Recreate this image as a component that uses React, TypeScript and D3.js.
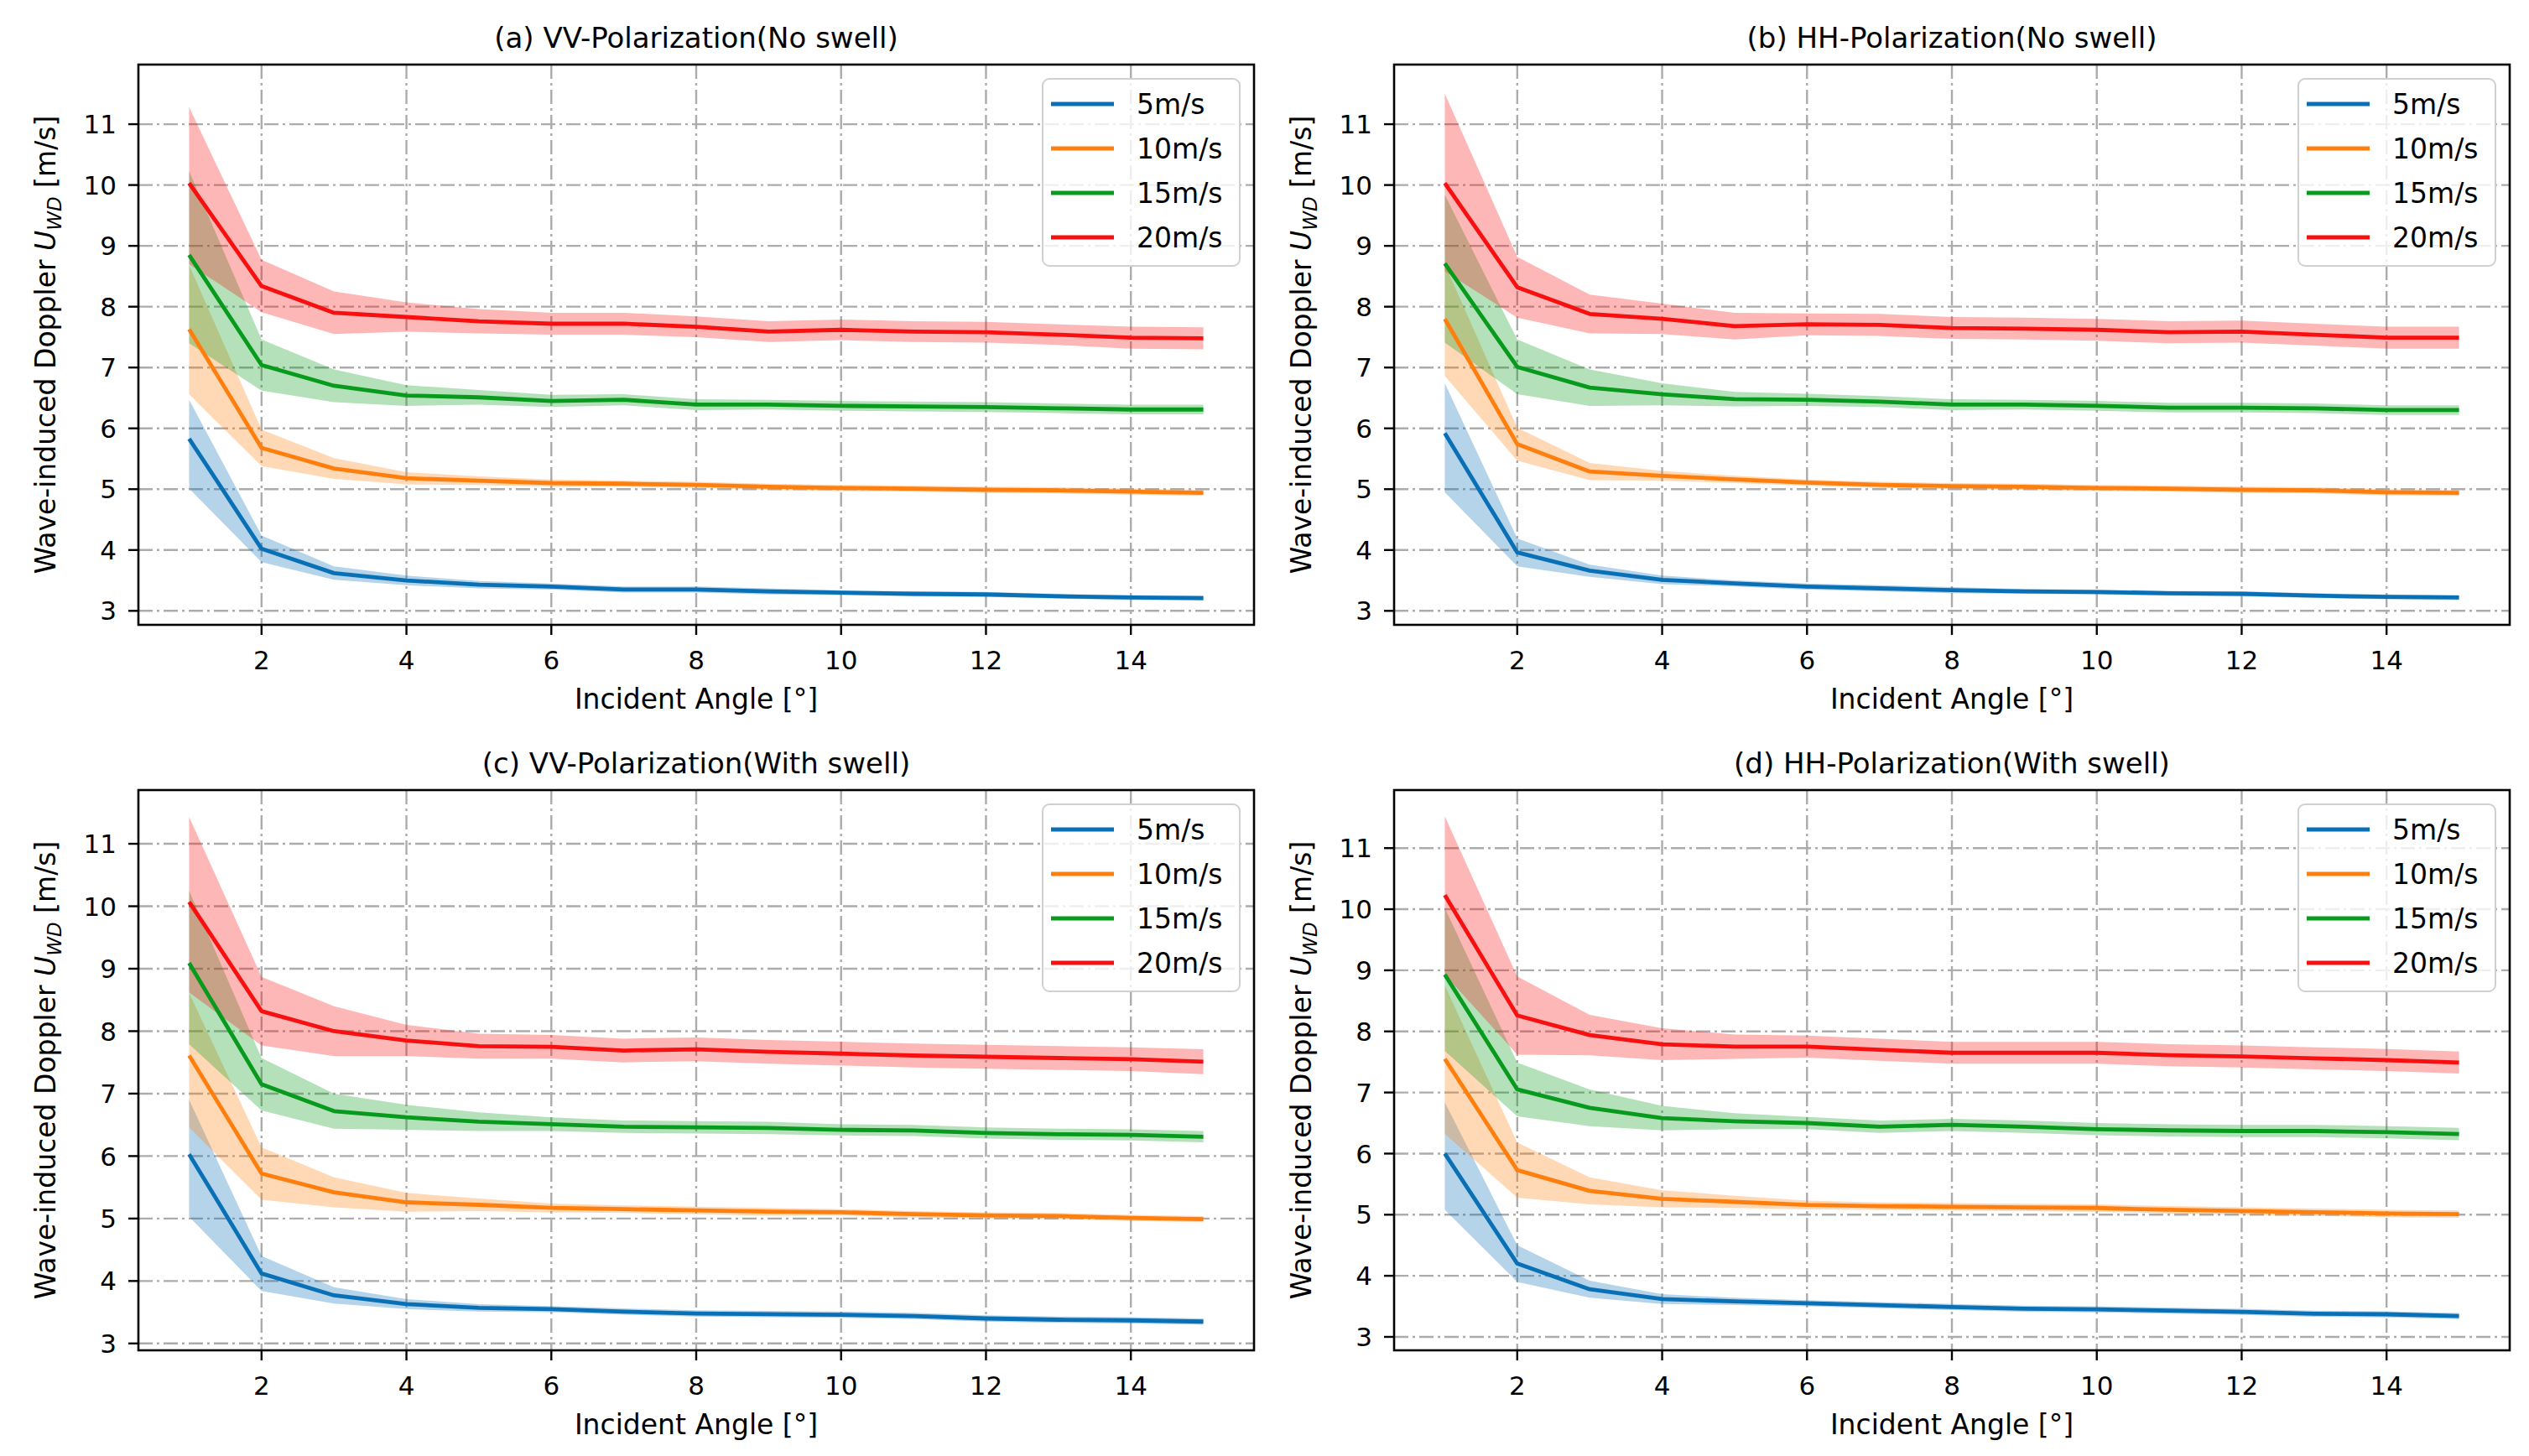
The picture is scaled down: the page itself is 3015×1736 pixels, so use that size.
import React from 'react';
import * as d3 from 'd3';

// ---------- data ----------
const angles = [1, 2, 3, 4, 5, 6, 7, 8, 9, 10, 11, 12, 13, 14, 15];
const xTicks = [2, 4, 6, 8, 10, 12, 14];
const yTicks = [3, 4, 5, 6, 7, 8, 9, 10, 11];
const speedLabels = ['5m/s', '10m/s', '15m/s', '20m/s'];
const seriesColors = ['#0a70b6', '#ff7f0e', '#079a1c', '#f80f0f'];
const panelTitles = [
  '(a) VV-Polarization(No swell)',
  '(b) HH-Polarization(No swell)',
  '(c) VV-Polarization(With swell)',
  '(d) HH-Polarization(With swell)',
];
const xLabel = 'Incident Angle [°]';

// (a) VV, no swell — mean per wind speed (5, 10, 15, 20 m/s)
const vvNoSwellMean = [
  [5.83, 4.02, 3.62, 3.50, 3.43, 3.40, 3.35, 3.35, 3.32, 3.30, 3.28, 3.27, 3.24, 3.22, 3.21],
  [7.63, 5.68, 5.34, 5.18, 5.14, 5.10, 5.09, 5.07, 5.04, 5.02, 5.01, 4.99, 4.98, 4.96, 4.94],
  [8.85, 7.04, 6.70, 6.54, 6.51, 6.45, 6.47, 6.39, 6.39, 6.37, 6.36, 6.35, 6.33, 6.31, 6.31],
  [10.03, 8.34, 7.90, 7.83, 7.76, 7.72, 7.72, 7.67, 7.59, 7.62, 7.59, 7.58, 7.54, 7.49, 7.48],
];
const vvNoSwellUp = [
  [0.64, 0.22, 0.11, 0.08, 0.06, 0.05, 0.05, 0.05, 0.05, 0.04, 0.04, 0.04, 0.04, 0.04, 0.04],
  [1.05, 0.30, 0.17, 0.10, 0.07, 0.06, 0.05, 0.05, 0.05, 0.05, 0.05, 0.05, 0.05, 0.05, 0.05],
  [1.38, 0.42, 0.27, 0.17, 0.12, 0.10, 0.09, 0.09, 0.08, 0.08, 0.08, 0.08, 0.08, 0.08, 0.08],
  [1.25, 0.43, 0.35, 0.24, 0.20, 0.18, 0.18, 0.17, 0.17, 0.17, 0.17, 0.17, 0.17, 0.18, 0.18],
];
const vvNoSwellDown = [
  [0.82, 0.22, 0.11, 0.08, 0.06, 0.05, 0.05, 0.05, 0.05, 0.04, 0.04, 0.04, 0.04, 0.04, 0.04],
  [1.07, 0.30, 0.17, 0.10, 0.07, 0.06, 0.05, 0.05, 0.05, 0.05, 0.05, 0.05, 0.05, 0.05, 0.05],
  [1.45, 0.42, 0.27, 0.17, 0.12, 0.10, 0.09, 0.09, 0.08, 0.08, 0.08, 0.08, 0.08, 0.08, 0.08],
  [1.33, 0.43, 0.35, 0.24, 0.20, 0.18, 0.18, 0.17, 0.17, 0.17, 0.17, 0.17, 0.17, 0.18, 0.18],
];

// (b) HH, no swell
const hhNoSwellMean = [
  [5.92, 3.96, 3.66, 3.51, 3.45, 3.40, 3.37, 3.34, 3.32, 3.31, 3.29, 3.28, 3.25, 3.23, 3.22],
  [7.80, 5.74, 5.29, 5.22, 5.16, 5.11, 5.07, 5.05, 5.04, 5.02, 5.01, 4.99, 4.98, 4.95, 4.94],
  [8.71, 7.01, 6.67, 6.56, 6.48, 6.47, 6.44, 6.39, 6.39, 6.37, 6.34, 6.34, 6.33, 6.30, 6.30],
  [10.03, 8.32, 7.88, 7.80, 7.68, 7.71, 7.70, 7.65, 7.64, 7.62, 7.58, 7.59, 7.54, 7.49, 7.49],
];
const hhNoSwellUp = [
  [0.82, 0.23, 0.10, 0.07, 0.05, 0.05, 0.05, 0.05, 0.04, 0.04, 0.04, 0.04, 0.04, 0.04, 0.04],
  [0.90, 0.27, 0.14, 0.08, 0.06, 0.05, 0.05, 0.05, 0.05, 0.05, 0.05, 0.05, 0.05, 0.05, 0.05],
  [1.13, 0.45, 0.30, 0.18, 0.12, 0.10, 0.09, 0.09, 0.08, 0.08, 0.08, 0.08, 0.08, 0.08, 0.08],
  [1.47, 0.50, 0.32, 0.25, 0.22, 0.18, 0.18, 0.18, 0.18, 0.18, 0.18, 0.18, 0.18, 0.18, 0.18],
];
const hhNoSwellDown = [
  [0.97, 0.23, 0.10, 0.07, 0.05, 0.05, 0.05, 0.05, 0.04, 0.04, 0.04, 0.04, 0.04, 0.04, 0.04],
  [0.94, 0.27, 0.14, 0.08, 0.06, 0.05, 0.05, 0.05, 0.05, 0.05, 0.05, 0.05, 0.05, 0.05, 0.05],
  [1.30, 0.45, 0.30, 0.18, 0.12, 0.10, 0.09, 0.09, 0.08, 0.08, 0.08, 0.08, 0.08, 0.08, 0.08],
  [1.45, 0.50, 0.32, 0.25, 0.22, 0.18, 0.18, 0.18, 0.18, 0.18, 0.18, 0.18, 0.18, 0.18, 0.18],
];

// (c) VV, with swell
const vvSwellMean = [
  [6.03, 4.12, 3.77, 3.63, 3.57, 3.55, 3.51, 3.48, 3.47, 3.46, 3.44, 3.40, 3.38, 3.37, 3.35],
  [7.61, 5.72, 5.42, 5.26, 5.22, 5.17, 5.15, 5.13, 5.11, 5.10, 5.07, 5.05, 5.04, 5.01, 4.99],
  [9.09, 7.15, 6.72, 6.62, 6.55, 6.51, 6.47, 6.46, 6.45, 6.42, 6.41, 6.37, 6.35, 6.34, 6.31],
  [10.07, 8.32, 8.00, 7.85, 7.76, 7.75, 7.69, 7.71, 7.67, 7.64, 7.61, 7.59, 7.57, 7.55, 7.51],
];
const vvSwellUp = [
  [0.87, 0.28, 0.13, 0.08, 0.06, 0.05, 0.05, 0.05, 0.05, 0.05, 0.05, 0.05, 0.05, 0.05, 0.05],
  [1.00, 0.42, 0.24, 0.15, 0.10, 0.07, 0.06, 0.06, 0.06, 0.05, 0.05, 0.05, 0.05, 0.05, 0.05],
  [1.16, 0.42, 0.28, 0.20, 0.15, 0.11, 0.10, 0.10, 0.10, 0.09, 0.09, 0.09, 0.09, 0.09, 0.09],
  [1.36, 0.55, 0.40, 0.25, 0.20, 0.19, 0.19, 0.19, 0.19, 0.19, 0.19, 0.19, 0.19, 0.19, 0.20],
];
const vvSwellDown = [
  [1.00, 0.28, 0.13, 0.08, 0.06, 0.05, 0.05, 0.05, 0.05, 0.05, 0.05, 0.05, 0.05, 0.05, 0.05],
  [1.15, 0.42, 0.24, 0.15, 0.10, 0.07, 0.06, 0.06, 0.06, 0.05, 0.05, 0.05, 0.05, 0.05, 0.05],
  [1.30, 0.42, 0.28, 0.20, 0.15, 0.11, 0.10, 0.10, 0.10, 0.09, 0.09, 0.09, 0.09, 0.09, 0.09],
  [1.45, 0.55, 0.40, 0.25, 0.20, 0.19, 0.19, 0.19, 0.19, 0.19, 0.19, 0.19, 0.19, 0.19, 0.20],
];

// (d) HH, with swell
const hhSwellMean = [
  [6.00, 4.20, 3.78, 3.62, 3.58, 3.55, 3.52, 3.49, 3.46, 3.45, 3.43, 3.41, 3.38, 3.37, 3.34],
  [7.55, 5.73, 5.39, 5.26, 5.21, 5.16, 5.14, 5.13, 5.12, 5.11, 5.08, 5.06, 5.04, 5.02, 5.01],
  [8.93, 7.05, 6.75, 6.58, 6.53, 6.50, 6.44, 6.47, 6.44, 6.40, 6.38, 6.37, 6.37, 6.35, 6.32],
  [10.23, 8.26, 7.94, 7.79, 7.75, 7.75, 7.70, 7.65, 7.65, 7.65, 7.61, 7.59, 7.56, 7.53, 7.49],
];
const hhSwellUp = [
  [0.84, 0.30, 0.14, 0.08, 0.06, 0.05, 0.05, 0.05, 0.05, 0.05, 0.05, 0.05, 0.05, 0.05, 0.05],
  [1.20, 0.45, 0.22, 0.14, 0.10, 0.07, 0.06, 0.06, 0.06, 0.06, 0.06, 0.06, 0.06, 0.06, 0.06],
  [1.09, 0.44, 0.30, 0.20, 0.13, 0.10, 0.10, 0.10, 0.10, 0.10, 0.10, 0.10, 0.10, 0.10, 0.10],
  [1.29, 0.64, 0.33, 0.26, 0.20, 0.18, 0.18, 0.18, 0.18, 0.18, 0.18, 0.18, 0.18, 0.18, 0.18],
];
const hhSwellDown = [
  [0.92, 0.30, 0.14, 0.08, 0.06, 0.05, 0.05, 0.05, 0.05, 0.05, 0.05, 0.05, 0.05, 0.05, 0.05],
  [1.23, 0.45, 0.22, 0.14, 0.10, 0.07, 0.06, 0.06, 0.06, 0.06, 0.06, 0.06, 0.06, 0.06, 0.06],
  [1.25, 0.44, 0.30, 0.20, 0.13, 0.10, 0.10, 0.10, 0.10, 0.10, 0.10, 0.10, 0.10, 0.10, 0.10],
  [1.30, 0.64, 0.33, 0.26, 0.20, 0.18, 0.18, 0.18, 0.18, 0.18, 0.18, 0.18, 0.18, 0.18, 0.18],
];

const panelMeans = [vvNoSwellMean, hhNoSwellMean, vvSwellMean, hhSwellMean];
const panelUps = [vvNoSwellUp, hhNoSwellUp, vvSwellUp, hhSwellUp];
const panelDowns = [vvNoSwellDown, hhNoSwellDown, vvSwellDown, hhSwellDown];
const panelYDomains: [number, number][] = [
  [2.77, 11.98],
  [2.77, 11.98],
  [2.89, 11.86],
  [2.78, 11.95],
];
const xDomain: [number, number] = [0.3, 15.7];

// ---------- layout ----------
const W = 3015;
const H = 1736;
const FONT = "'DejaVu Sans', 'Liberation Sans', sans-serif";
const colX = [
  [165, 1495],
  [1662, 2992],
];
const rowY = [
  [77, 745],
  [942, 1610],
];

type PanelProps = {
  idx: number;
};

function Panel({ idx }: PanelProps) {
  const col = idx % 2;
  const row = Math.floor(idx / 2);
  const [x0, x1] = colX[col];
  const [y0, y1] = rowY[row];
  const xs = d3.scaleLinear().domain(xDomain).range([x0, x1]);
  const ys = d3.scaleLinear().domain(panelYDomains[idx]).range([y1, y0]);
  const means = panelMeans[idx];
  const ups = panelUps[idx];
  const downs = panelDowns[idx];
  const cx = (x0 + x1) / 2;
  const cy = (y0 + y1) / 2;
  const clipId = `clip-${idx}`;

  const lineGen = d3
    .line<number>()
    .x((_, i) => xs(angles[i]))
    .y((d) => ys(d));

  const areaGen = (s: number) =>
    d3
      .area<number>()
      .x((_, i) => xs(angles[i]))
      .y0((d, i) => ys(d - downs[s][i]))
      .y1((d, i) => ys(d + ups[s][i]));

  const gridStyle = {
    stroke: '#acacac',
    strokeWidth: 2.4,
    strokeDasharray: '17 5 3 5',
    fill: 'none',
  };

  const legW = 235;
  const legH = 223;
  const legX = x1 - 17 - legW;
  const legY = y0 + 17;

  return (
    <g>
      <defs>
        <clipPath id={clipId}>
          <rect x={x0} y={y0} width={x1 - x0} height={y1 - y0} />
        </clipPath>
      </defs>
      {/* grid */}
      <g clipPath={`url(#${clipId})`}>
        {xTicks.map((t) => (
          <line key={`gx${t}`} x1={xs(t)} x2={xs(t)} y1={y0} y2={y1} style={gridStyle} />
        ))}
        {yTicks.map((t) => (
          <line key={`gy${t}`} x1={x0} x2={x1} y1={ys(t)} y2={ys(t)} style={gridStyle} />
        ))}
      </g>
      {/* bands and lines */}
      <g clipPath={`url(#${clipId})`}>
        {means.map((m, s) => (
          <path key={`a${s}`} d={areaGen(s)(m) || ''} fill={seriesColors[s]} fillOpacity={0.3} stroke="none" />
        ))}
        {means.map((m, s) => (
          <path
            key={`l${s}`}
            d={lineGen(m) || ''}
            fill="none"
            stroke={seriesColors[s]}
            strokeWidth={4.8}
            strokeLinejoin="round"
            strokeLinecap="butt"
          />
        ))}
      </g>
      {/* spines */}
      <rect x={x0} y={y0} width={x1 - x0} height={y1 - y0} fill="none" stroke="#000" strokeWidth={2.6} />
      {/* ticks */}
      {xTicks.map((t) => (
        <g key={`tx${t}`}>
          <line x1={xs(t)} x2={xs(t)} y1={y1} y2={y1 + 12} stroke="#000" strokeWidth={2.4} />
          <text x={xs(t)} y={y1 + 53} textAnchor="middle" fontSize={31} fontFamily={FONT} fill="#000">
            {t}
          </text>
        </g>
      ))}
      {yTicks.map((t) => (
        <g key={`ty${t}`}>
          <line x1={x0 - 12} x2={x0} y1={ys(t)} y2={ys(t)} stroke="#000" strokeWidth={2.4} />
          <text x={x0 - 26} y={ys(t)} dy="0.36em" textAnchor="end" fontSize={31} fontFamily={FONT} fill="#000">
            {t}
          </text>
        </g>
      ))}
      {/* labels */}
      <text x={cx} y={y1 + 100} textAnchor="middle" fontSize={33} fontFamily={FONT} fill="#000">
        {xLabel}
      </text>
      <text
        transform={`translate(${x0 - 99},${cy}) rotate(-90)`}
        textAnchor="middle"
        fontSize={33}
        fontFamily={FONT}
        fill="#000"
      >
        Wave-induced Doppler{' '}
        <tspan fontStyle="italic">U</tspan>
        <tspan fontStyle="italic" fontSize={23} dy={7}>
          WD
        </tspan>
        <tspan dy={-7}> [m/s]</tspan>
      </text>
      <text x={cx} y={y0 - 20} textAnchor="middle" fontSize={34} fontFamily={FONT} fill="#000">
        {panelTitles[idx]}
      </text>
      {/* legend */}
      <g>
        <rect
          x={legX}
          y={legY}
          width={legW}
          height={legH}
          rx={8}
          ry={8}
          fill="#ffffff"
          fillOpacity={0.8}
          stroke="#d0d0d0"
          strokeWidth={2}
        />
        {speedLabels.map((lab, s) => {
          const yy = legY + 30 + 53 * s;
          return (
            <g key={`lg${s}`}>
              <line x1={legX + 10} x2={legX + 85} y1={yy} y2={yy} stroke={seriesColors[s]} strokeWidth={4.8} />
              <text x={legX + 112} y={yy} dy="0.36em" fontSize={33} fontFamily={FONT} fill="#000">
                {lab}
              </text>
            </g>
          );
        })}
      </g>
    </g>
  );
}

export default function App() {
  return (
    <svg
      width={W}
      height={H}
      viewBox={`0 0 ${W} ${H}`}
      style={{ position: 'absolute', left: 0, top: 0, background: '#fff' }}
      xmlns="http://www.w3.org/2000/svg"
    >
      <rect x={0} y={0} width={W} height={H} fill="#fff" />
      {[0, 1, 2, 3].map((i) => (
        <Panel key={i} idx={i} />
      ))}
    </svg>
  );
}
